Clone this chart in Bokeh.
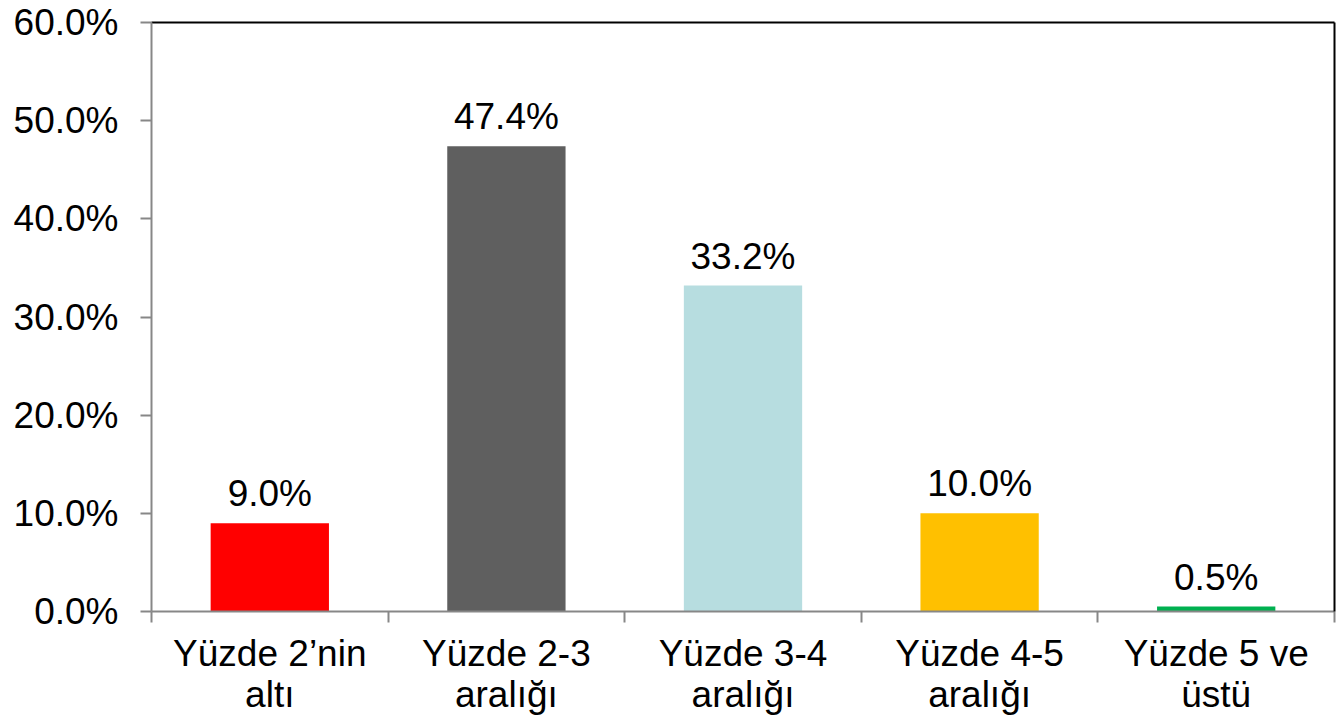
from bokeh.plotting import figure
from bokeh.models import (ColumnDataSource, FixedTicker, NumeralTickFormatter,
                          LinearAxis, Range1d)
from bokeh.core.properties import value
from bokeh.embed import file_html
from bokeh.resources import INLINE
import numpy as np

categories = ["Yüzde 2’nin\naltı", "Yüzde 2-3\naralığı", "Yüzde 3-4\naralığı",
              "Yüzde 4-5\naralığı", "Yüzde 5 ve\nüstü"]
shares = [9.0, 47.4, 33.2, 10.0, 0.5]
colors = ["#FF0000", "#5F5F5F", "#B7DDE0", "#FFC000", "#00B050"]
y_ticks = [0.0, 0.1, 0.2, 0.3, 0.4, 0.5, 0.6]

FONT = "Liberation Sans"
FS = "37px"
AXIS_GRAY = "#878787"

xs = np.arange(len(categories)) + 0.5
src = ColumnDataSource(dict(
    x=xs,
    top=[s / 100 for s in shares],
    color=colors,
    label=[f"{s:.1f}%" for s in shares],
))

p = figure(width=1337, height=720, output_backend="svg", toolbar_location=None,
           x_range=Range1d(0, len(categories)), y_range=Range1d(0, 0.6),
           min_border_left=151, min_border_right=3, min_border_top=22,
           min_border_bottom=109, x_axis_type=None, y_axis_type=None)
p.outline_line_color = None
p.grid.visible = False
p.background_fill_color = "white"
p.border_fill_color = "white"

p.vbar(x="x", top="top", width=0.5, bottom=0, color="color", source=src,
       line_color=None)
p.text(x="x", y="top", text="label", source=src, text_align="center",
       text_baseline="bottom", y_offset=-9, text_font=value(FONT),
       text_font_size=FS, text_color="black")

# y axis
yax = LinearAxis(ticker=FixedTicker(ticks=y_ticks),
                 formatter=NumeralTickFormatter(format="0.0%"))
yax.axis_line_color = AXIS_GRAY
yax.axis_line_width = 2
yax.major_tick_line_color = AXIS_GRAY
yax.major_tick_line_width = 2
yax.major_tick_out = 11
yax.major_tick_in = 0
yax.minor_tick_line_color = None
yax.major_label_standoff = 22
yax.major_label_text_font = FONT
yax.major_label_text_font_size = FS
yax.major_label_text_color = "black"
p.add_layout(yax, "left")

# x axis: labels at centers, tick marks at category boundaries
xax = LinearAxis(ticker=FixedTicker(ticks=list(xs),
                                    minor_ticks=list(range(len(categories) + 1))))
xax.major_label_overrides = {float(x): c for x, c in zip(xs, categories)}
xax.axis_line_color = AXIS_GRAY
xax.axis_line_width = 2
xax.major_tick_line_color = None
xax.major_tick_out = 11
xax.major_tick_in = 0
xax.minor_tick_line_color = AXIS_GRAY
xax.minor_tick_line_width = 2
xax.minor_tick_out = 11
xax.minor_tick_in = 0
xax.major_label_standoff = 10
xax.major_label_text_font = FONT
xax.major_label_text_font_size = FS
xax.major_label_text_color = "black"
xax.major_label_text_line_height = 1.0
p.add_layout(xax, "below")

# top and right frame lines
for side in ("above", "right"):
    ax = LinearAxis(ticker=FixedTicker(ticks=[]))
    ax.axis_line_color = "black"
    ax.axis_line_width = 2
    ax.major_tick_line_color = None
    ax.minor_tick_line_color = None
    ax.major_label_text_font_size = "0px"
    ax.major_label_standoff = 0
    ax.major_tick_out = 0
    ax.minor_tick_out = 0
    p.add_layout(ax, side)

open("out.html", "w").write(file_html(p, INLINE))
